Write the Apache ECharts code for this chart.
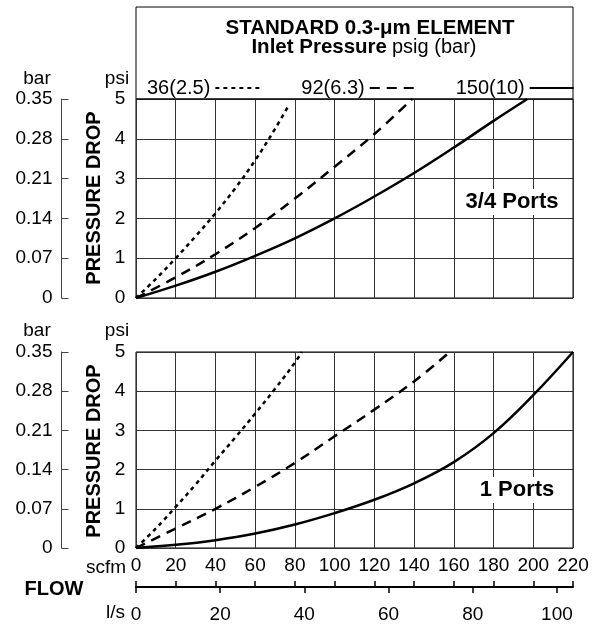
<!DOCTYPE html>
<html>
<head>
<meta charset="utf-8">
<script src="https://cdn.jsdelivr.net/npm/echarts@6/dist/echarts.min.js"></script>
<style>
  html, body { margin: 0; padding: 0; background: #fff; }
  #chart { width: 594px; height: 624px; }
</style>
</head>
<body>
<div id="chart"></div>
<script>
// flow (scfm) vs pressure drop (psi)
var names = ['36(2.5)', '92(6.3)', '150(10)']
var top36 = [[0, 0], [10, 0.48], [20, 1.0], [30, 1.55], [40, 2.13], [50, 2.76], [60, 3.46], [70, 4.25], [77, 4.85]]
var top92 = [[0, 0], [20, 0.52], [40, 1.1], [60, 1.76], [80, 2.5], [100, 3.3], [120, 4.12], [139, 5]]
var top150 = [[0, 0], [20, 0.31], [40, 0.66], [60, 1.06], [80, 1.5], [100, 2.0], [120, 2.55], [140, 3.14], [160, 3.78], [180, 4.45], [197, 5]]
var bot36 = [[0, 0], [10, 0.5], [20, 1.05], [30, 1.62], [40, 2.23], [50, 2.82], [60, 3.43], [70, 4.06], [80, 4.73], [83.5, 5]]
var bot92 = [[0, 0], [20, 0.5], [40, 1.0], [60, 1.56], [80, 2.17], [100, 2.85], [120, 3.53], [140, 4.25], [158, 5]]
var bot150 = [[0, 0], [20, 0.08], [40, 0.2], [60, 0.37], [80, 0.6], [100, 0.89], [120, 1.23], [140, 1.65], [160, 2.19], [180, 2.93], [200, 3.9], [220, 5]]
var barTicks = [0, 0.07, 0.14, 0.21, 0.28, 0.35]
var lpsTicks = [0, 20, 40, 60, 80, 100]
var portLabels = ['3/4 Ports', '1 Ports']

var font = 'Liberation Sans, Arial, Helvetica, sans-serif'
var SCFM_TO_LPS = 0.4719

var Chart = echarts.init(document.getElementById('chart'))

function psiAxis(grid) {
  return {
    gridIndex: grid, type: 'value', min: 0, max: 5, interval: 1,
    axisLine: { show: false }, axisTick: { show: false },
    axisLabel: { color: '#000', fontSize: 19, fontFamily: font, align: 'center', margin: 16 },
    splitLine: { lineStyle: { color: '#333', width: 1 } }
  }
}
function barAxis(grid) {
  return {
    gridIndex: grid, type: 'value', min: 0, max: 0.35, position: 'left', offset: 74.5,
    axisLine: { show: true, onZero: false, lineStyle: { color: '#444', width: 1 } },
    axisTick: { show: true, inside: true, length: 7, customValues: barTicks, lineStyle: { color: '#444' } },
    axisLabel: {
      customValues: barTicks, color: '#000', fontSize: 19, fontFamily: font, margin: 9,
      formatter: function (v) { return v === 0 ? '0' : v.toFixed(2) }
    },
    splitLine: { show: false }
  }
}
function curve(name, xi, yi, data, dash) {
  return {
    type: 'line', name: name, xAxisIndex: xi, yAxisIndex: yi, data: data,
    symbol: 'none', smooth: 0.4, silent: true,
    itemStyle: { color: '#000' },
    lineStyle: { color: '#000', width: 2.5, type: dash }
  }
}

var option = {
  animation: false,
  textStyle: { fontFamily: font, color: '#000' },
  grid: [
    { left: 136, top: 99, width: 437, height: 199, show: true, borderColor: '#000', borderWidth: 1 },
    { left: 136, top: 352, width: 437, height: 198, show: true, borderColor: '#000', borderWidth: 1 }
  ],
  legend: {
    data: names, left: 142, top: 73, itemWidth: 44, itemHeight: 12, itemGap: 41,
    align: 'right', selectedMode: false,
    itemStyle: { opacity: 0 },
    textStyle: { fontSize: 20, color: '#000', fontFamily: font }
  },
  xAxis: [
    {
      gridIndex: 0, type: 'value', min: 0, max: 220, interval: 20,
      axisLine: { show: false, onZero: false }, axisTick: { show: false }, axisLabel: { show: false },
      splitLine: { lineStyle: { color: '#333', width: 1 } }
    },
    {
      gridIndex: 1, type: 'value', min: 0, max: 220, interval: 20,
      axisLine: { show: false, onZero: false }, axisTick: { show: false },
      axisLabel: { color: '#000', fontSize: 19, fontFamily: font, margin: 8 },
      splitLine: { lineStyle: { color: '#333', width: 1 } }
    },
    {
      // scfm ticks above the shared FLOW line
      gridIndex: 1, type: 'value', min: 0, max: 220, interval: 20, position: 'bottom', offset: 39,
      axisLine: { show: true, onZero: false, lineStyle: { color: '#000', width: 2 } },
      axisTick: { show: true, inside: true, length: 6, lineStyle: { color: '#000', width: 1.5 } },
      axisLabel: { show: false }, splitLine: { show: false }
    },
    {
      // l/s scale below it
      gridIndex: 1, type: 'value', min: 0, max: 220 * SCFM_TO_LPS, position: 'bottom', offset: 39,
      axisLine: { show: false, onZero: false },
      axisTick: { show: true, length: 6, customValues: lpsTicks, lineStyle: { color: '#000', width: 1.5 } },
      axisLabel: { customValues: lpsTicks, color: '#000', fontSize: 19, fontFamily: font, margin: 18 },
      splitLine: { show: false }
    }
  ],
  yAxis: [psiAxis(0), barAxis(0), psiAxis(1), barAxis(1)],
  graphic: [
    { type: 'rect', z: 100, shape: { x: 136, y: 7, width: 437, height: 92 }, style: { fill: 'none', stroke: '#000', lineWidth: 1 } },
    { type: 'text', z: 100, x: 370, y: 28, style: { text: 'STANDARD 0.3-μm ELEMENT', font: 'bold 20.5px ' + font, fill: '#000', textAlign: 'center', textVerticalAlign: 'middle' } },
    { type: 'text', z: 100, x: 387, y: 47, style: { text: 'Inlet Pressure', font: 'bold 20.5px ' + font, fill: '#000', textAlign: 'right', textVerticalAlign: 'middle' } },
    { type: 'text', z: 100, x: 392, y: 47, style: { text: 'psig (bar)', font: '20px ' + font, fill: '#000', textAlign: 'left', textVerticalAlign: 'middle' } },
    { type: 'text', z: 100, x: 512, y: 202, style: { text: portLabels[0], font: 'bold 22px ' + font, fill: '#000', textAlign: 'center', textVerticalAlign: 'middle', backgroundColor: '#fff', padding: [2, 3] } },
    { type: 'text', z: 100, x: 517, y: 490, style: { text: portLabels[1], font: 'bold 22px ' + font, fill: '#000', textAlign: 'center', textVerticalAlign: 'middle', backgroundColor: '#fff', padding: [2, 3] } },
    { type: 'text', z: 100, x: 37, y: 79, style: { text: 'bar', font: '19px ' + font, fill: '#000', textAlign: 'center', textVerticalAlign: 'middle' } },
    { type: 'text', z: 100, x: 117, y: 79, style: { text: 'psi', font: '19px ' + font, fill: '#000', textAlign: 'center', textVerticalAlign: 'middle' } },
    { type: 'text', z: 100, x: 37, y: 331, style: { text: 'bar', font: '19px ' + font, fill: '#000', textAlign: 'center', textVerticalAlign: 'middle' } },
    { type: 'text', z: 100, x: 117, y: 331, style: { text: 'psi', font: '19px ' + font, fill: '#000', textAlign: 'center', textVerticalAlign: 'middle' } },
    { type: 'text', z: 100, x: 94, y: 198, rotation: Math.PI / 2, style: { text: 'PRESSURE DROP', font: 'bold 20px ' + font, fill: '#000', textAlign: 'center', textVerticalAlign: 'middle' } },
    { type: 'text', z: 100, x: 94, y: 451, rotation: Math.PI / 2, style: { text: 'PRESSURE DROP', font: 'bold 20px ' + font, fill: '#000', textAlign: 'center', textVerticalAlign: 'middle' } },
    { type: 'text', z: 100, x: 126, y: 568, style: { text: 'scfm', font: '19px ' + font, fill: '#000', textAlign: 'right', textVerticalAlign: 'middle' } },
    { type: 'text', z: 100, x: 54, y: 589, style: { text: 'FLOW', font: 'bold 20px ' + font, fill: '#000', textAlign: 'center', textVerticalAlign: 'middle' } },
    { type: 'text', z: 100, x: 125, y: 613, style: { text: 'l/s', font: '19px ' + font, fill: '#000', textAlign: 'right', textVerticalAlign: 'middle' } }
  ],
  series: [
    curve(names[0], 0, 0, top36, [4, 4]),
    curve(names[1], 0, 0, top92, [10, 7]),
    curve(names[2], 0, 0, top150, 'solid'),
    curve(names[0], 1, 2, bot36, [4, 4]),
    curve(names[1], 1, 2, bot92, [10, 7]),
    curve(names[2], 1, 2, bot150, 'solid')
  ]
}
Chart.setOption(option)
</script>
</body>
</html>
